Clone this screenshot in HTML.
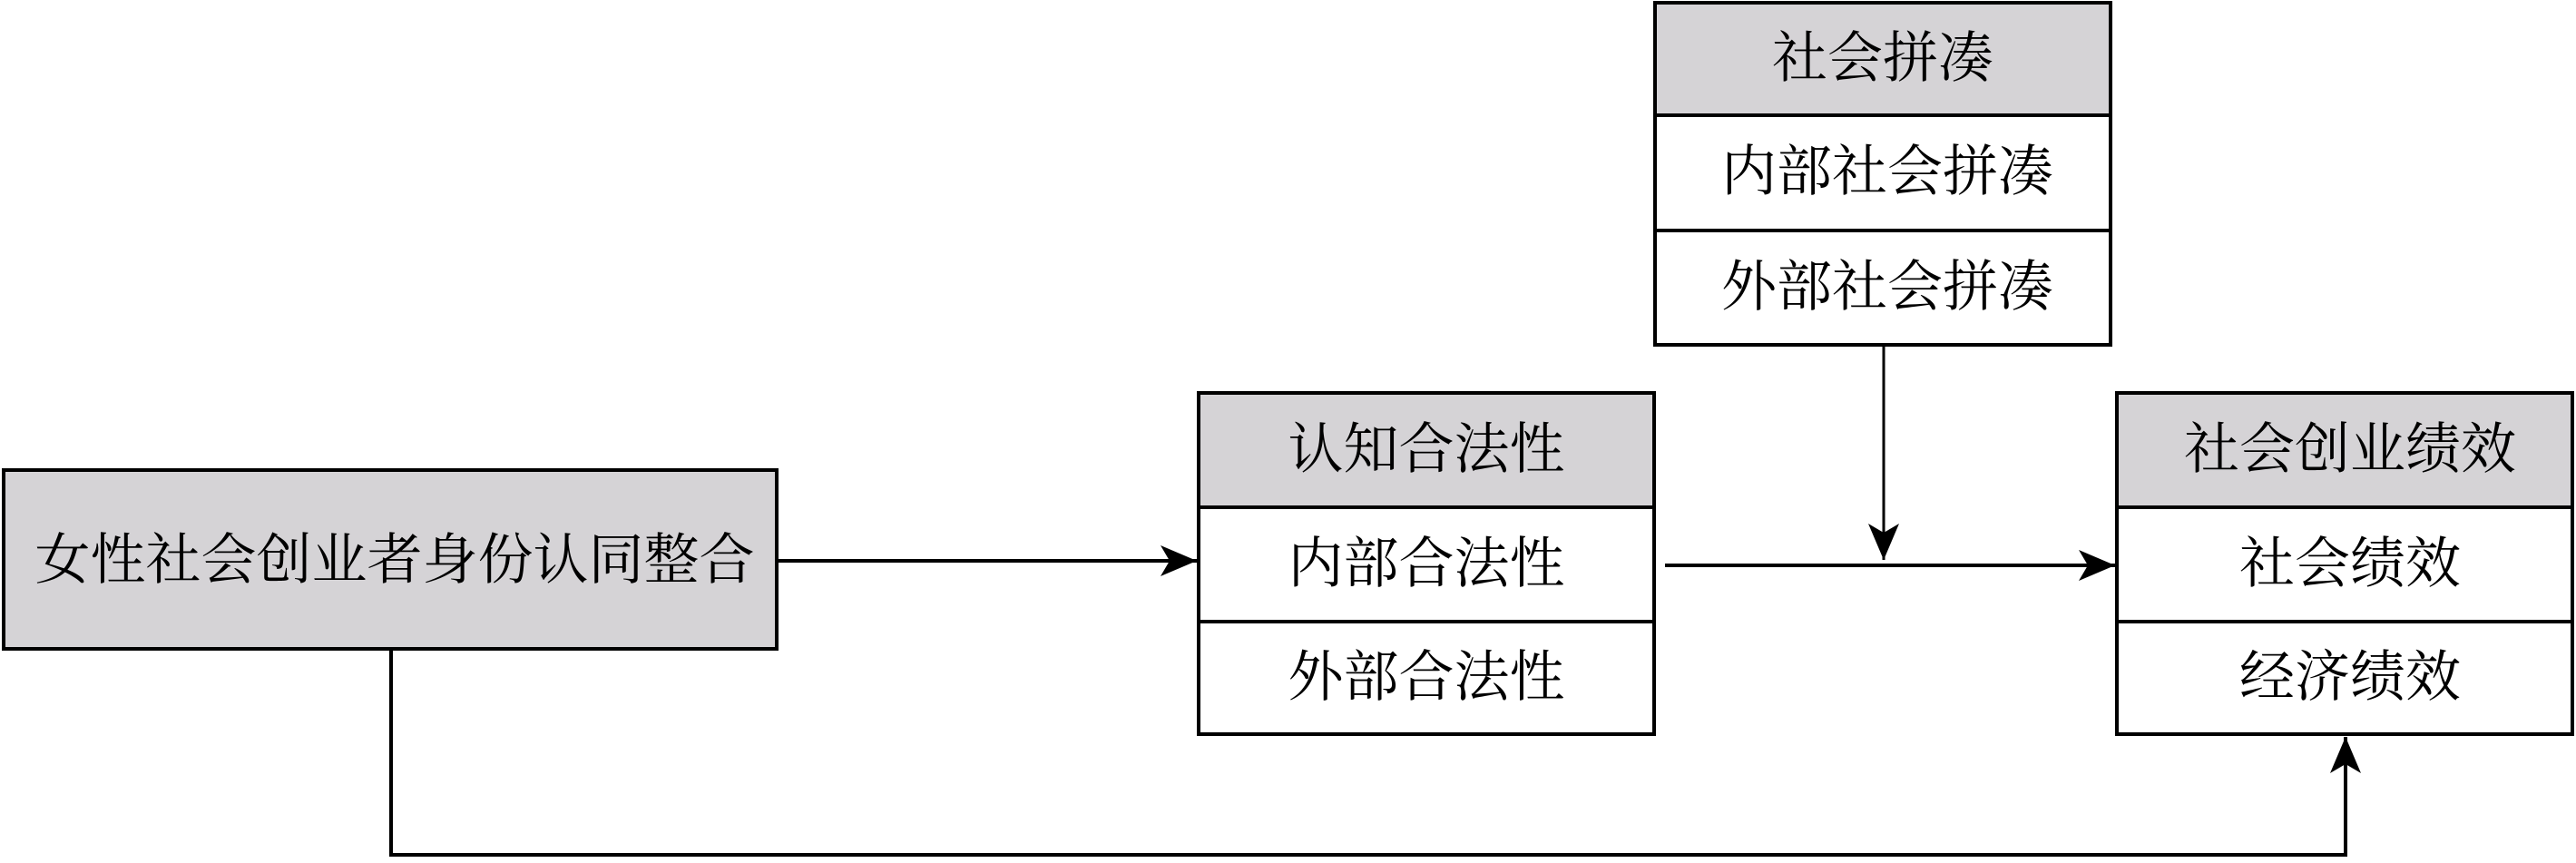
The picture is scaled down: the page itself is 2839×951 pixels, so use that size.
<!DOCTYPE html>
<html><head><meta charset="utf-8"><style>
body{margin:0;background:#fff;}
svg text{font-family:"Liberation Serif","Noto Serif CJK SC",serif;font-size:61px;fill:#000;text-anchor:middle;dominant-baseline:central;}
</style></head><body>
<svg width="2839" height="946" viewBox="0 0 2839 946" xmlns="http://www.w3.org/2000/svg">
<defs>
<marker id="b" markerWidth="40" markerHeight="34" refX="40" refY="17" orient="auto" markerUnits="userSpaceOnUse" viewBox="0 0 40 34"><path d="M0,0 L40,17 L0,34 L10,17z" fill="#000"/></marker></defs>
<g stroke="#000" stroke-width="4">
<rect x="4" y="518" width="852" height="197" fill="#d5d3d6"/>
<rect x="1321" y="433" width="502" height="126" fill="#d5d3d6"/>
<rect x="1321" y="559" width="502" height="250" fill="#fff"/>
<line x1="1321" y1="685" x2="1823" y2="685"/>
<rect x="1824" y="3" width="502" height="124" fill="#d5d3d6"/>
<rect x="1824" y="127" width="502" height="253" fill="#fff"/>
<line x1="1824" y1="254" x2="2326" y2="254"/>
<rect x="2333" y="433" width="502" height="126" fill="#d5d3d6"/>
<rect x="2333" y="559" width="502" height="250" fill="#fff"/>
<line x1="2333" y1="685" x2="2835" y2="685"/>
</g>
<g stroke="#000" fill="none">
<line x1="856" y1="618" x2="1319" y2="618" stroke-width="4" marker-end="url(#b)"/>
<line x1="1835" y1="623" x2="2331" y2="623" stroke-width="4" marker-end="url(#b)"/>
<line x1="2076" y1="380" x2="2076" y2="617" stroke-width="3" marker-end="url(#b)"/>
<polyline points="431,715 431,942 2585,942 2585,812" stroke-width="4" marker-end="url(#b)"/>
</g>
<text x="435" y="618">女性社会创业者身份认同整合</text>
<text x="1572" y="496">认知合法性</text>
<text x="1572" y="622">内部合法性</text>
<text x="1572" y="747">外部合法性</text>
<text x="2075" y="65">社会拼凑</text>
<text x="2080" y="190">内部社会拼凑</text>
<text x="2080" y="317">外部社会拼凑</text>
<text x="2590" y="496">社会创业绩效</text>
<text x="2590" y="622">社会绩效</text>
<text x="2590" y="747">经济绩效</text>
</svg>
</body></html>
